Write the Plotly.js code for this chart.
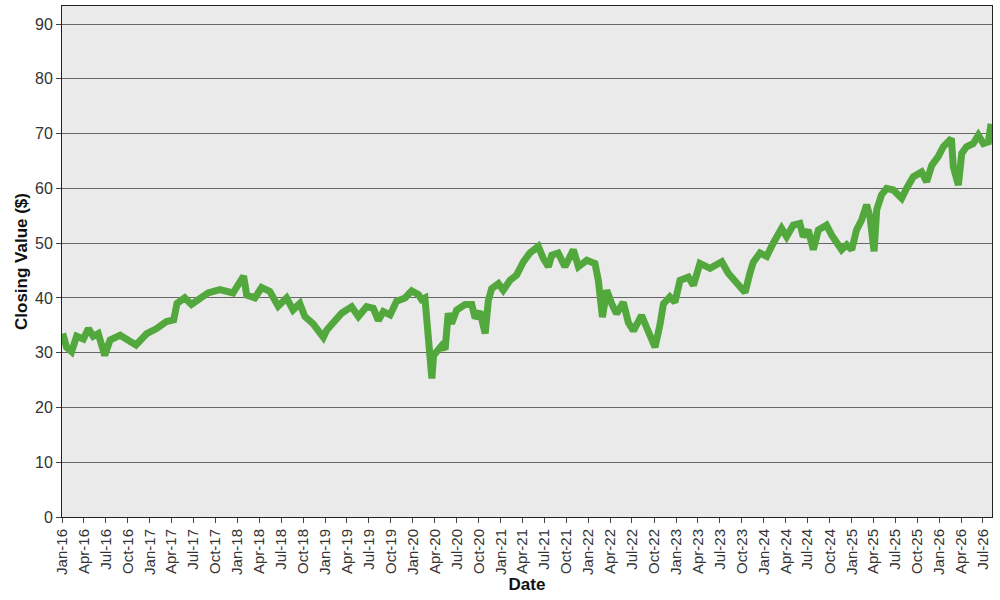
<!DOCTYPE html>
<html>
<head>
<meta charset="utf-8">
<script src="https://cdn.plot.ly/plotly-3.0.1.min.js"></script>
<style>
  html, body { margin: 0; padding: 0; background: #ffffff; }
  #chart { width: 1000px; height: 600px; }
</style>
</head>
<body>
<div id="chart"></div>
<script>
// closing values
var dates = [
  '2016-01-04','2016-01-20','2016-02-10','2016-03-02','2016-03-30','2016-04-20','2016-05-10','2016-05-31',
  '2016-06-27','2016-07-19','2016-08-30','2016-09-26','2016-11-04','2016-12-19','2017-01-29','2017-03-11',
  '2017-04-10','2017-04-24','2017-05-26','2017-06-23','2017-07-28','2017-08-31','2017-10-19','2017-12-13',
  '2018-01-26','2018-02-08','2018-03-14','2018-04-11','2018-05-15','2018-06-19','2018-07-24','2018-08-20',
  '2018-09-17','2018-10-08','2018-11-11','2018-12-24','2019-01-07','2019-02-04','2019-03-10','2019-04-21',
  '2019-05-19','2019-06-22','2019-07-20','2019-08-10','2019-08-31','2019-09-28','2019-10-25','2019-11-29',
  '2019-12-27','2020-01-24','2020-02-06','2020-02-20','2020-02-27','2020-03-05','2020-03-20','2020-03-27',
  '2020-04-09','2020-04-30','2020-05-14','2020-05-27','2020-06-10','2020-07-01','2020-08-05','2020-09-02',
  '2020-09-16','2020-10-06','2020-10-28','2020-11-10','2020-11-24','2020-12-22','2021-01-11','2021-02-08',
  '2021-03-08','2021-04-05','2021-05-02','2021-06-06','2021-06-27','2021-07-18','2021-08-01','2021-08-28',
  '2021-09-25','2021-10-30','2021-11-20','2021-12-25','2022-01-28','2022-02-11','2022-02-28','2022-03-18',
  '2022-04-08','2022-04-28','2022-05-26','2022-06-16','2022-07-07','2022-08-10','2022-08-31','2022-09-21',
  '2022-10-05','2022-10-26','2022-11-09','2022-12-06','2022-12-27','2023-01-17','2023-02-21','2023-03-14',
  '2023-04-10','2023-05-22','2023-06-19','2023-07-10','2023-08-06','2023-09-05','2023-10-15','2023-11-04',
  '2023-11-18','2023-12-16','2024-01-13','2024-02-09','2024-03-15','2024-04-05','2024-05-03','2024-05-30',
  '2024-06-13','2024-07-04','2024-07-25','2024-08-15','2024-09-18','2024-10-09','2024-10-30','2024-11-20',
  '2024-12-11','2025-01-01','2025-01-21','2025-02-11','2025-03-04','2025-03-18','2025-04-04','2025-04-15',
  '2025-05-05','2025-05-26','2025-06-23','2025-07-28','2025-08-17','2025-09-14','2025-10-19','2025-11-09',
  '2025-11-30','2025-12-27','2026-01-17','2026-02-07','2026-02-20','2026-02-28','2026-03-21','2026-04-04',
  '2026-04-24','2026-05-22','2026-06-12','2026-07-03','2026-07-24','2026-08-04'
];

var closing = [
  33.5, 31.0, 30.2, 33.0, 32.5, 34.4, 33.0, 33.5,
  29.5, 32.3, 33.2, 32.6, 31.4, 33.5, 34.4, 35.7,
  36.0, 39.0, 40.0, 38.8, 39.7, 40.9, 41.5, 40.9,
  44.0, 40.5, 40.0, 41.9, 41.2, 38.5, 40.0, 37.8,
  39.0, 36.6, 35.3, 32.8, 34.1, 35.3, 37.2, 38.4,
  36.6, 38.4, 38.1, 35.9, 37.5, 36.9, 39.4, 40.0,
  41.3, 40.6, 39.7, 40.0, 35.3, 30.5, 25.3, 29.5,
  30.3, 31.3, 30.6, 37.2, 35.3, 37.8, 38.8, 38.8,
  36.3, 37.5, 33.5, 39.5, 41.7, 42.6, 41.4, 43.2,
  44.2, 46.6, 48.2, 49.4, 47.2, 45.7, 47.8, 48.2,
  45.7, 48.8, 45.7, 46.9, 46.3, 43.2, 36.5, 41.4,
  38.9, 37.1, 39.2, 35.5, 34.0, 36.8, 34.6, 32.2,
  31.0, 35.2, 38.9, 40.2, 39.2, 43.2, 43.8, 42.3,
  46.3, 45.4, 46.3, 46.6, 44.5, 43.0, 41.0, 44.5,
  46.5, 48.2, 47.6, 50.0, 52.7, 51.2, 53.3, 53.6,
  51.2, 52.4, 48.8, 52.4, 53.3, 51.5, 50.0, 48.8,
  49.7, 48.8, 52.4, 54.2, 57.0, 54.8, 48.5, 56.1,
  58.8, 60.0, 59.7, 58.2, 60.0, 62.1, 63.0, 61.2,
  64.2, 65.8, 67.6, 68.5, 69.1, 63.9, 60.6, 66.4,
  67.6, 68.2, 69.7, 68.2, 68.5, 71.8
];

var yTicks = [0, 10, 20, 30, 40, 50, 60, 70, 80, 90];

var trace = {
  x: dates,
  y: closing,
  type: 'scatter',
  mode: 'lines',
  line: { color: '#52a83c', width: 7 },
  hoverinfo: 'x+y'
};

var fontFam = '"Liberation Sans", Arial, sans-serif';

var layout = {
  width: 1000,
  height: 600,
  margin: { l: 62, r: 8, t: 6, b: 83 },
  paper_bgcolor: '#ffffff',
  plot_bgcolor: '#eaeaea',
  showlegend: false,
  font: { family: fontFam, size: 15, color: '#333333' },
  xaxis: {
    type: 'date',
    range: ['2016-01-01', '2026-08-08'],
    tick0: '2016-01-01',
    dtick: 'M3',
    tickformat: '%b-%y',
    tickangle: -90,
    ticks: 'outside',
    ticklen: 5,
    tickcolor: '#444444',
    showgrid: false,
    zeroline: false,
    showline: true,
    linecolor: '#222222',
    linewidth: 1,
    mirror: true,
    tickfont: { family: fontFam, size: 15, color: '#333333' },
    title: { text: 'Date', font: { family: fontFam, size: 17, color: '#111111', weight: 'bold' }, standoff: 4 }
  },
  yaxis: {
    range: [0, 93.3],
    tickvals: yTicks,
    ticks: 'outside',
    ticklen: 5,
    tickcolor: '#444444',
    showgrid: true,
    gridcolor: '#666666',
    gridwidth: 1,
    zeroline: false,
    showline: true,
    linecolor: '#222222',
    linewidth: 1,
    mirror: true,
    tickfont: { family: fontFam, size: 16, color: '#333333' },
    title: { text: 'Closing Value ($)', font: { family: fontFam, size: 17, color: '#111111', weight: 'bold' }, standoff: 3 }
  }
};

Plotly.newPlot('chart', [trace], layout, { displayModeBar: false, staticPlot: true });
</script>
</body>
</html>
